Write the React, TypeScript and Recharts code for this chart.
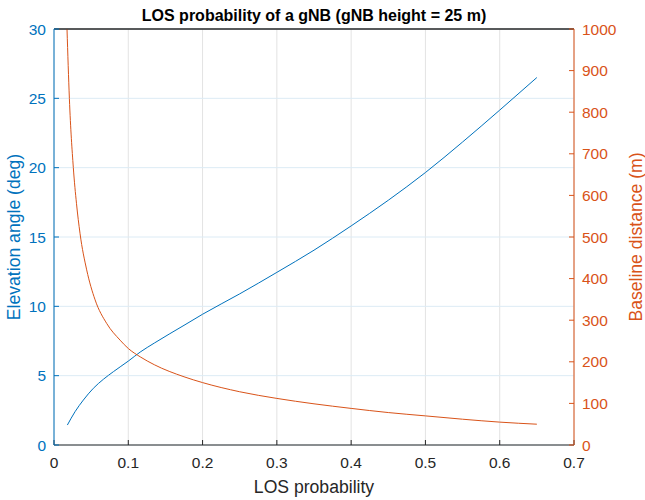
import {
  ComposedChart,
  Line,
  XAxis,
  YAxis,
  CartesianGrid,
  ReferenceLine,
} from "recharts";

// blue curve: LOS probability vs elevation angle (deg), left axis
const elevProb = [
  0.018, 0.0283, 0.0395, 0.053, 0.0665, 0.08, 0.1, 0.116, 0.135, 0.175, 0.2,
  0.25, 0.3, 0.35, 0.4, 0.45, 0.5, 0.55, 0.6, 0.65,
];
const elevationDeg = [
  1.44, 2.4, 3.24, 4.09, 4.74, 5.29, 6.05, 6.7, 7.35, 8.63, 9.43, 10.9, 12.45,
  14.05, 15.8, 17.65, 19.65, 21.85, 24.15, 26.5,
];

// orange curve: LOS probability vs baseline distance (m), right axis
const distProb = [
  0.0175, 0.0207, 0.026, 0.0303, 0.035, 0.044, 0.0553, 0.071, 0.089, 0.1,
  0.116, 0.135, 0.175, 0.2, 0.25, 0.3, 0.35, 0.4, 0.45, 0.5, 0.55, 0.6, 0.65,
];
const baselineDistance = [
  1000, 833, 667, 580, 509, 421, 349, 292, 252, 232, 212, 193, 164, 150, 128,
  112, 99, 88, 78, 70, 62, 55, 50,
];

const xTicks = [0, 0.1, 0.2, 0.3, 0.4, 0.5, 0.6, 0.7];
const leftTicks = [0, 5, 10, 15, 20, 25, 30];
const rightTicks = [0, 100, 200, 300, 400, 500, 600, 700, 800, 900, 1000];

const BLUE = "#0072BD";
const ORANGE = "#D95319";
const DARK = "#262626";
const FONT = "'Liberation Sans', Arial, Helvetica, sans-serif";

const elevData = elevProb.map((x, i) => ({ x, elev: elevationDeg[i] }));
const distData = distProb.map((x, i) => ({ x, dist: baselineDistance[i] }));

export default function App() {
  return (
    <div
      style={{ position: "relative", width: 645, height: 500, fontFamily: FONT }}
    >
      <style>{`body{margin:0}`}</style>
      <div
        style={{
          position: "absolute",
          left: 54,
          width: 520,
          top: 6,
          textAlign: "center",
          fontSize: 16,
          fontWeight: "bold",
          lineHeight: "20px",
          color: "#000",
        }}
      >
        LOS probability of a gNB (gNB height = 25 m)
      </div>
      <ComposedChart
        width={645}
        height={500}
        margin={{ top: 28, right: 0, bottom: 0, left: 0 }}
      >
        <CartesianGrid
          xAxisId="bottom"
          yAxisId="left"
          horizontal={false}
          stroke="#e3e3e3"
        />
        <CartesianGrid
          xAxisId="bottom"
          yAxisId="left"
          vertical={false}
          stroke="#dcebf5"
        />
        <XAxis
          xAxisId="top"
          orientation="top"
          type="number"
          dataKey="x"
          domain={[0, 0.7]}
          ticks={xTicks}
          height={1}
          tick={false}
          tickSize={-5}
          stroke={DARK}
        />
        <XAxis
          xAxisId="bottom"
          type="number"
          dataKey="x"
          domain={[0, 0.7]}
          ticks={xTicks}
          height={55}
          tickSize={-5}
          tickMargin={17}
          stroke={DARK}
          tick={{ fill: DARK, fontSize: 15.5, fontFamily: FONT }}
          tickFormatter={(v) => String(v)}
          label={{
            content: () => (
              <text
                x={314}
                y={493}
                textAnchor="middle"
                fontSize={17.6}
                fill={DARK}
                fontFamily={FONT}
              >
                LOS probability
              </text>
            ),
          }}
        />
        <YAxis
          yAxisId="left"
          orientation="left"
          type="number"
          domain={[0, 30]}
          ticks={leftTicks}
          width={54}
          tickSize={-5}
          tickMargin={13}
          stroke={BLUE}
          tick={{ fill: BLUE, fontSize: 15.5, fontFamily: FONT }}
          label={{
            content: () => (
              <text
                x={20}
                y={237}
                transform="rotate(-90, 20, 237)"
                textAnchor="middle"
                fontSize={17.6}
                fill={BLUE}
                fontFamily={FONT}
              >
                Elevation angle (deg)
              </text>
            ),
          }}
        />
        <YAxis
          yAxisId="right"
          orientation="right"
          type="number"
          domain={[0, 1000]}
          ticks={rightTicks}
          width={71}
          tickSize={-5}
          tickMargin={13}
          stroke={ORANGE}
          tick={{ fill: ORANGE, fontSize: 15.5, fontFamily: FONT }}
          label={{
            content: () => (
              <text
                x={642}
                y={237}
                transform="rotate(-90, 642, 237)"
                textAnchor="middle"
                fontSize={17.6}
                fill={ORANGE}
                fontFamily={FONT}
              >
                Baseline distance (m)
              </text>
            ),
          }}
        />
        <ReferenceLine
          xAxisId="bottom"
          yAxisId="left"
          y={30}
          stroke={DARK}
          ifOverflow="visible"
        />
        {/* invisible series so the top (box) axis gets drawn */}
        <Line
          data={elevData}
          xAxisId="top"
          yAxisId="left"
          dataKey="elev"
          stroke="none"
          dot={false}
          legendType="none"
          isAnimationActive={false}
        />
        <Line
          data={elevData}
          xAxisId="bottom"
          yAxisId="left"
          type="monotone"
          dataKey="elev"
          stroke={BLUE}
          strokeWidth={1}
          dot={false}
          isAnimationActive={false}
        />
        <Line
          data={distData}
          xAxisId="bottom"
          yAxisId="right"
          type="monotone"
          dataKey="dist"
          stroke={ORANGE}
          strokeWidth={1}
          dot={false}
          isAnimationActive={false}
        />
      </ComposedChart>
    </div>
  );
}
